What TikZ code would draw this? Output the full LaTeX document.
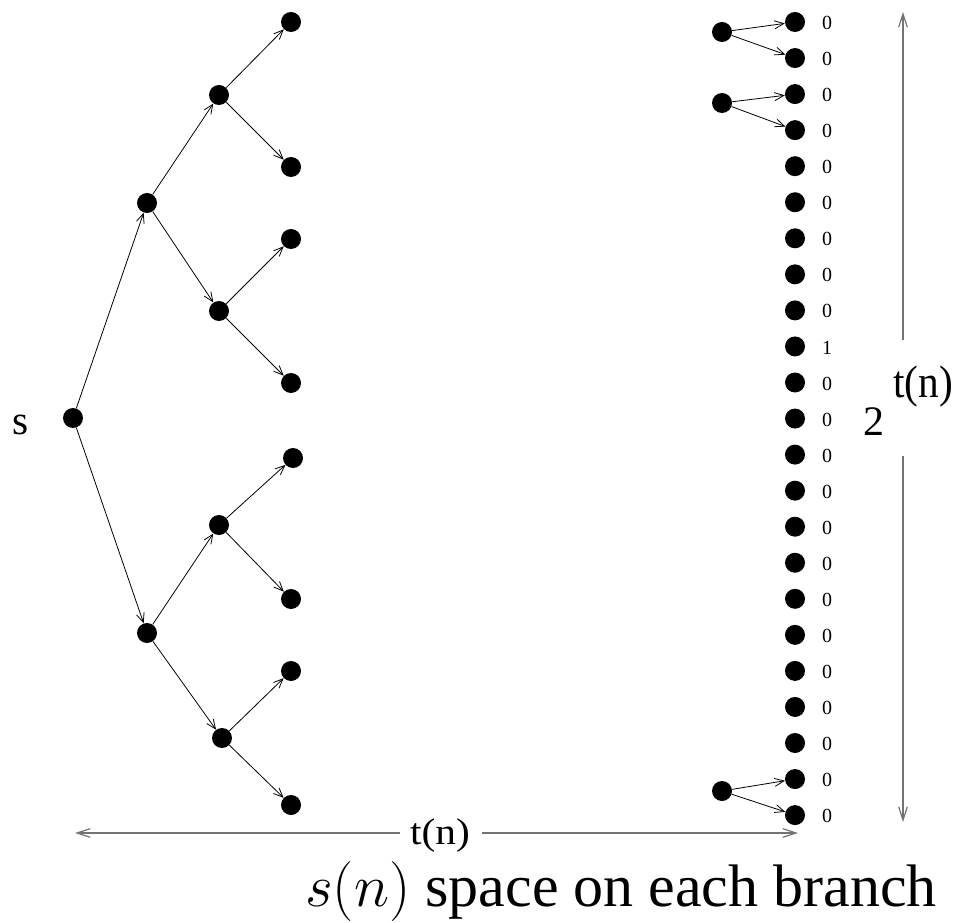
\RequirePackage{fix-cm}
\documentclass[tikz,border=0pt]{standalone}
\usepackage[no-math]{fontspec}
\setmainfont{Liberation Serif}
\usetikzlibrary{arrows.meta}
\begin{document}
\begin{tikzpicture}[x=0.75pt,y=-0.75pt,
  dot/.style={circle,fill=black,draw=none,minimum size=15,inner sep=0pt},
  edge/.style={line width=0.6pt,-{Straight Barb[length=7pt,width=6pt]}},
  dim/.style={line width=0.9pt,draw=black!55,-{Straight Barb[length=10pt,width=6.5pt]}},
  bit/.style={inner sep=0pt,font=\fontsize{15}{15}\selectfont},
  big/.style={inner sep=0pt}]
\useasboundingbox (0,0) rectangle (956,923);
% tree
\node[dot] (r) at (73,418) {};
\node[big,font=\fontsize{31}{31}\selectfont] (slab) at (21,425) {s};
\node[dot] (a1) at (147,203) {};
\node[dot] (a2) at (147,633) {};
\node[dot] (b1) at (219,95) {};
\node[dot] (b2) at (219,311) {};
\node[dot] (b3) at (219,525) {};
\node[dot] (b4) at (222,738) {};
\node[dot] (c1) at (291,22) {};
\node[dot] (c2) at (291,167) {};
\node[dot] (c3) at (291,239) {};
\node[dot] (c4) at (291,383) {};
\node[dot] (c5) at (293,458) {};
\node[dot] (c6) at (291,599) {};
\node[dot] (c7) at (291,671) {};
\node[dot] (c8) at (291,805) {};
\draw[edge] (r) -- (a1);
\draw[edge] (r) -- (a2);
\draw[edge] (a1) -- (b1);
\draw[edge] (a1) -- (b2);
\draw[edge] (a2) -- (b3);
\draw[edge] (a2) -- (b4);
\draw[edge] (b1) -- (c1);
\draw[edge] (b1) -- (c2);
\draw[edge] (b2) -- (c3);
\draw[edge] (b2) -- (c4);
\draw[edge] (b3) -- (c5);
\draw[edge] (b3) -- (c6);
\draw[edge] (b4) -- (c7);
\draw[edge] (b4) -- (c8);
% right column
\foreach \i/\v in {1/0,2/0,3/0,4/0,5/0,6/0,7/0,8/0,9/0,10/1,11/0,12/0,13/0,14/0,15/0,16/0,17/0,18/0,19/0,20/0,21/0,22/0,23/0}{
  \node[dot] (d\i) at (795,{22+(\i-1)*36.05}) {};
  \node[bit] (l\i) at (827,{23+(\i-1)*36.05}) {\v};
}
\node[dot] (m1) at (722,32) {};
\node[dot] (m2) at (722,103) {};
\node[dot] (m3) at (722,791) {};
\draw[edge] (m1) -- (d1);
\draw[edge] (m1) -- (d2);
\draw[edge] (m2) -- (d3);
\draw[edge] (m2) -- (d4);
\draw[edge] (m3) -- (d22);
\draw[edge] (m3) -- (d23);
% vertical dimension
\coordinate (vt) at (903,12);
\coordinate (vta) at (903,340);
\coordinate (vb) at (903,822);
\coordinate (vba) at (903,456);
\draw[dim] (vta) -- (vt);
\draw[dim] (vba) -- (vb);
\node[big,font=\fontsize{31.5}{31.5}\selectfont] (two) at (874,422) {2};
\node[big,font=\fontsize{31}{31}\selectfont] (tnv) at (923,387) {\scalebox{1}[1.1]{t(n)}};
% horizontal dimension
\node[big,font=\fontsize{31}{31}\selectfont] (tnh) at (440,836) {\scalebox{1}[0.9]{t(n)}};
\coordinate (hl) at (75,833);
\coordinate (hr) at (798,833);
\coordinate (hla) at (400,833);
\coordinate (hra) at (482,833);
\draw[dim] (hla) -- (hl);
\draw[dim] (hra) -- (hr);
% caption
\node[big,anchor=base,font=\fontsize{45}{45}\selectfont] (cap) at (621,906) {$s(n)$ space on each branch};
\end{tikzpicture}
\end{document}
